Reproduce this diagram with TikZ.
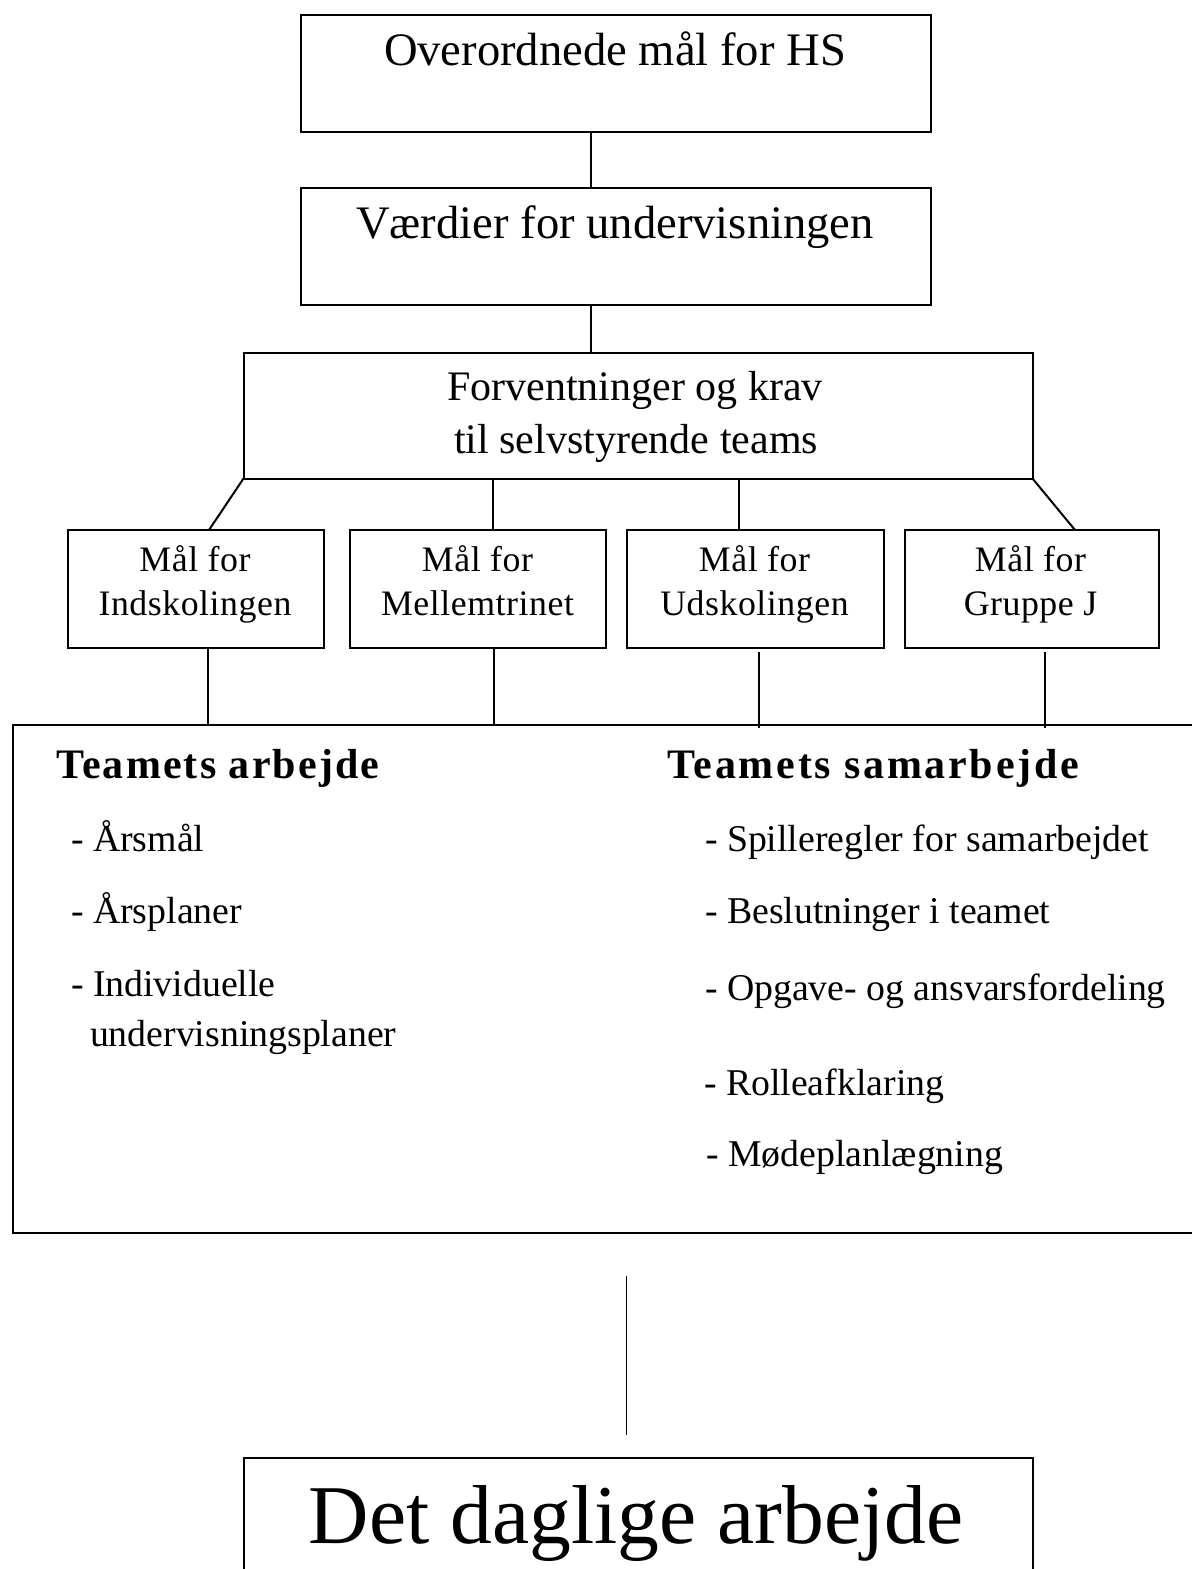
\documentclass[tikz,border=0pt]{standalone}
\usepackage{fontspec}
\setmainfont{Liberation Serif}
\newfontfamily\boxfont[LetterSpace=1.5]{Liberation Serif}
\newfontfamily\headfont[LetterSpace=5]{Liberation Serif}
\newfontfamily\headfontb[LetterSpace=6.5]{Liberation Serif}
\usetikzlibrary{fit,calc}
\begin{document}
\begin{tikzpicture}[x=0.5pt,y=-0.5pt,
  box/.style={draw, line width=1pt, inner sep=0pt, outer sep=0pt},
  frame/.style={inner sep=0pt, outer sep=0pt},
  link/.style={line width=1pt},
  ttl/.style={inner sep=0pt, outer sep=0pt, anchor=base},
  bigtxt/.style={ttl, font=\fontsize{23.3}{27}\selectfont},
  midtxt/.style={ttl, font=\fontsize{21}{26}\selectfont},
  smalltxt/.style={ttl, font=\boxfont\fontsize{17.9}{22}\selectfont},
  hdtxt/.style={inner sep=0pt, outer sep=0pt, anchor=base west, font=\headfont\bfseries\fontsize{21}{25}\selectfont},
  hdtxtb/.style={inner sep=0pt, outer sep=0pt, anchor=base west, font=\headfontb\bfseries\fontsize{21}{25}\selectfont},
  itemtxt/.style={inner sep=0pt, outer sep=0pt, anchor=base west, font=\fontsize{18.9}{23}\selectfont}]
\useasboundingbox (0,0) rectangle (1192,1569);

% upper boxes
\node[box, fit={(301,15) (931,132)}] (b1) {};
\node[bigtxt] (t1) at (615,65.5) {Overordnede mål for HS};
\node[box, fit={(301,188) (931,305)}] (b2) {};
\node[bigtxt] (t2) at (615,238) {Værdier for undervisningen};
\node[box, fit={(243.5,353) (1032.5,478.5)}] (b3) {};
\node[midtxt] (t3a) at (635,400) {Forventninger og krav};
\node[midtxt] (t3b) at (636,453) {til selvstyrende teams};

% four boxes
\node[box, fit={(68,530) (323.5,647.5)}] (A) {};
\node[box, fit={(350,530) (605.5,647.5)}] (B) {};
\node[box, fit={(627,530) (884,647.5)}] (C) {};
\node[box, fit={(905,530) (1158.5,647.5)}] (D) {};
\node[smalltxt] (ta1) at (195,571.7) {Mål for};
\node[smalltxt] (ta2) at (195,615.7) {Indskolingen};
\node[smalltxt] (tb1) at (477.5,571.7) {Mål for};
\node[smalltxt] (tb2) at (477.5,615.7) {Mellemtrinet};
\node[smalltxt] (tc1) at (754.5,571.7) {Mål for};
\node[smalltxt] (tc2) at (754.5,615.7) {Udskolingen};
\node[smalltxt] (td1) at (1030.5,571.7) {Mål for};
\node[smalltxt] (td2) at (1030.5,615.7) {Gruppe J};

% big frame
\node[frame, fit={(12.5,725) (1192,1232.5)}] (big) {};
\draw[link] (big.north east) -- (big.north west) -- (big.south west) -- (big.south east);

\node[hdtxt] (h1) at (56,778) {Teamets arbejde};
\node[hdtxtb] (h2) at (667,778) {Teamets samarbejde};

\node[itemtxt] (l1) at (71,851.7) {- Årsmål};
\node[itemtxt] (l2) at (71,923) {- Årsplaner};
\node[itemtxt] (l3) at (71,996.7) {- Individuelle};
\node[itemtxt] (l4) at (90,1046.7) {undervisningsplaner};

\node[itemtxt] (r1) at (705,851.7) {- Spilleregler for samarbejdet};
\node[itemtxt] (r2) at (705,923) {- Beslutninger i teamet};
\node[itemtxt] (r3) at (705,1000) {- Opgave- og ansvarsfordeling};
\node[itemtxt] (r4) at (704,1095) {- Rolleafklaring};
\node[itemtxt] (r5) at (706,1166.7) {- Mødeplanlægning};

% bottom box
\node[frame, fit={(244,1458) (1033,1569)}] (bot) {};
\draw[link] (bot.south west) -- (bot.north west) -- (bot.north east) -- (bot.south east);
\node[ttl, font=\fontsize{41.8}{48}\selectfont] (tbot) at (636,1543) {Det daglige arbejde};

% connectors
\coordinate (x591) at (591,0);
\coordinate (xb) at (493,0);
\coordinate (xc) at (738.5,0);
\coordinate (xa2) at (207.5,0);
\coordinate (xb2) at (494,0);
\coordinate (xc2) at (758.5,0);
\coordinate (xd2) at (1044.5,0);
\draw[link] (b1.south -| x591) -- (b2.north -| x591);
\draw[link] (b2.south -| x591) -- (b3.north -| x591);
\draw[link] (b3.south west) -- ($(A.north west)+(141,0)$);
\draw[link] (b3.south -| xb) -- (B.north -| xb);
\draw[link] (b3.south -| xc) -- (C.north -| xc);
\draw[link] (b3.south east) -- ($(D.north west)+(170,0)$);
\draw[link] (A.south -| xa2) -- (big.north -| xa2);
\draw[link] (B.south -| xb2) -- (big.north -| xb2);
\draw[link] ($(C.south -| xc2)+(0,4.5)$) -- ($(big.north -| xc2)+(0,2.5)$);
\draw[link] ($(D.south -| xd2)+(0,4.5)$) -- ($(big.north -| xd2)+(0,2.5)$);

\coordinate (v1) at (626.5,1276);
\coordinate (v2) at (626.5,1435);
\draw[line width=0.8pt] (v1) -- (v2);
\end{tikzpicture}
\end{document}
